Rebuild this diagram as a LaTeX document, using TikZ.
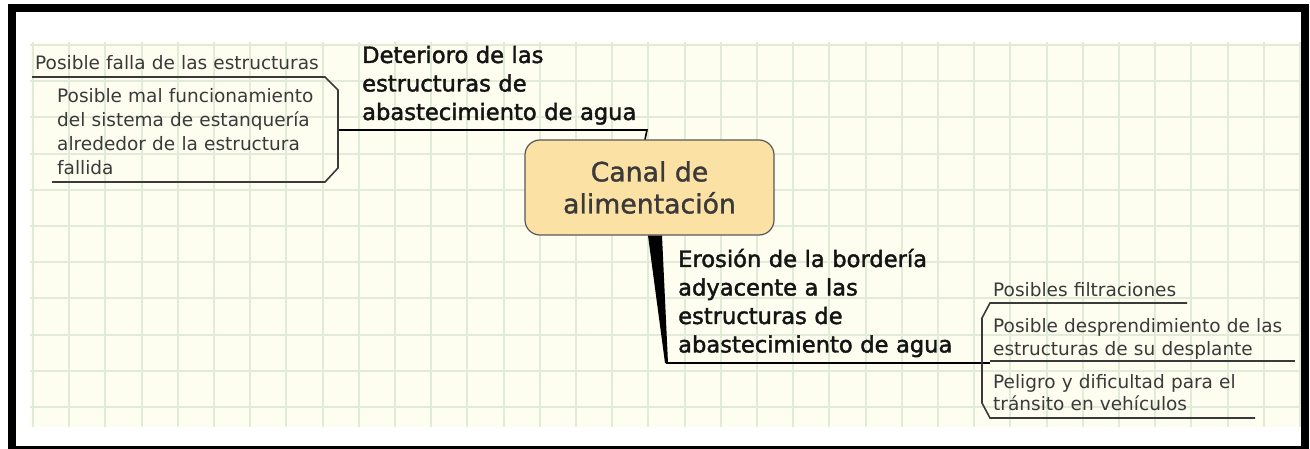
\documentclass[tikz,border=0pt]{standalone}
\usepackage{fontspec}
\setmainfont{DejaVu Sans}
\newfontfamily\heavyfont{DejaVu Sans}[AutoFakeBold=1.8]
\newfontfamily\midfont{DejaVu Sans}[AutoFakeBold=1.2]
\usetikzlibrary{positioning}
\definecolor{paper}{HTML}{FDFDF0}
\definecolor{gridc}{HTML}{E2EAD8}
\definecolor{boxfill}{HTML}{FCE1A4}
\definecolor{ink}{HTML}{3A3A3A}

\begin{document}
\begin{tikzpicture}[x=1pt, y=-1pt,
  topic/.style={text width=14cm, align=left, inner sep=0pt, anchor=base west,
    text=black!92, font=\heavyfont\bfseries\fontsize{22.6}{28.5}\selectfont},
  leaf/.style={text width=14cm, align=left, inner sep=0pt, anchor=base west,
    text=ink, font=\fontsize{18.5}{24}\selectfont},
  central/.style={draw=ink!85, line width=1.2pt, fill=boxfill, rounded corners=15pt,
    minimum width=249pt, minimum height=95pt, align=center, inner sep=0pt,
    text=ink, font=\midfont\bfseries\fontsize{26.7}{32}\selectfont},
  gridline/.style={draw=gridc, line width=2pt},
  branch/.style={draw=black, line width=1.6pt},
  rule/.style={draw=ink, line width=1.6pt}]
 \useasboundingbox (0,0) rectangle (1310,449);
 \fill[white] (0,0) rectangle (1310,449);
 \fill[paper] (30,42) rectangle (1302,427);
 \foreach \i in {0,...,35}
   \draw[gridline] ({33+36.2*\i},42) -- ++(0,385);
 \foreach \j in {0,...,10}
   \draw[gridline] (30,{407-36.2*\j}) -- (1302,{407-36.2*\j});
 \draw[line width=8pt] (12,8) rectangle (1305,450);

 \node[central] (CA) at (649.5,187.5) {Canal de\\alimentación};
 \node[topic] (D) at (362,63) {Deterioro de las\\estructuras de\\abastecimiento de agua};
 \node[topic] (E) at (678,267) {Erosión de la bordería\\adyacente a las\\estructuras de\\abastecimiento de agua};

 \node[leaf] (D1) at (35,70) {Posible falla de las estructuras};
 \node[leaf] (D2) at (57,103) {Posible mal funcionamiento\\del sistema de estanquería\\alrededor de la estructura\\fallida};
 \node[leaf] (E1) at (993,297) {Posibles filtraciones};
 \node[leaf, font=\fontsize{18.5}{23}\selectfont] (E2) at (993,332) {Posible desprendimiento de las\\estructuras de su desplante};
 \node[leaf, font=\fontsize{18.5}{22.5}\selectfont] (E3) at (993,388) {Peligro y dificultad para el\\tránsito en vehículos};

 \coordinate (dj) at (647,130);
 \coordinate (hubD) at (338,130);
 \coordinate (ej) at (666,363);
 \coordinate (hubE) at (982,363);

 % main branches
 \draw[branch] ([xshift=-4.5pt]CA.north) -- (dj) -- (hubD);
 \fill ([xshift=-1.5pt]CA.south) -- ([xshift=12.5pt]CA.south) -- (668,363) -- (665,363) -- cycle;
 \draw[branch] (ej) -- (hubE) -- ++(8,0);

 % sub topics
 \draw[rule] (32,77) -- (325,77) -- (338,90) -- (hubD) -- (338,168) -- (325,182) -- (52,182);
 \draw[rule] (1187,303) -- (990,303) -- (982,318) -- (hubE) -- (982,403) -- (990,418) -- (1255,418);
 \draw[rule] (990,361) -- (1295,361);
\end{tikzpicture}
\end{document}
